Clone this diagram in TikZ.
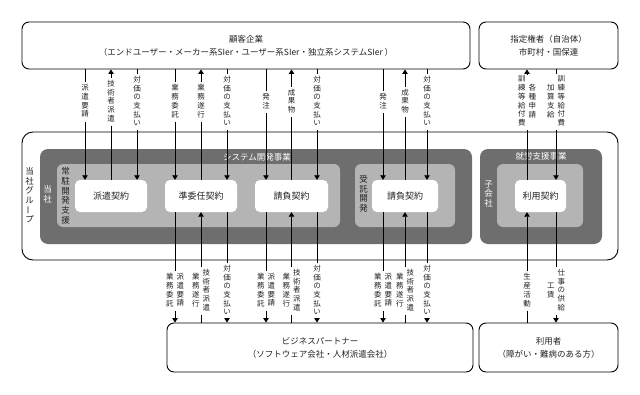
\documentclass[tikz,border=0pt]{standalone}
\usepackage{fontspec}
\setmainfont{Noto Sans CJK JP}
\usepackage{graphicx}
\usetikzlibrary{arrows.meta}
\definecolor{dk}{HTML}{6E6E6E}
\definecolor{lt}{HTML}{B4B4B4}
\definecolor{tx}{HTML}{222222}
\newcommand\fs[2]{\fontsize{#1}{#2}\selectfont}
\newcommand\vcol[1]{\begin{tabular}[c]{@{}c@{}}#1\end{tabular}}
\newcommand\vbar{\rotatebox[origin=c]{90}{ー}}
\newcommand\dnl[3]{\draw[ln] (#1 -| #2) -- (#2.north); \draw[ln,arr] (#2.south) -- (#3 -| #2);}
\newcommand\upl[3]{\draw[ln,arr] (#2.north) -- (#1 -| #2); \draw[ln] (#2.south) -- (#3 -| #2);}
\begin{document}
\begin{tikzpicture}[x=1pt,y=-1pt,
  ln/.style={line width=0.8pt, draw=black},
  arr/.style={-{Triangle[width=5.5pt,length=4.5pt]}},
  bx/.style={draw=black, line width=0.9pt, rounded corners=7pt, align=center, inner sep=0pt, text=tx, font=\fs{8.5}{13}},
  dkbx/.style={fill=dk, draw=none, rounded corners=8pt, inner sep=0pt},
  ltbx/.style={fill=lt, draw=none, rounded corners=6pt, inner sep=0pt},
  ct/.style={fill=white, draw=none, rounded corners=5pt, inner sep=0pt, text=tx, font=\fs{9}{11}, minimum height=32pt},
  wt/.style={text=white, inner sep=0pt, font=\fs{8.5}{9}},
  vt/.style={text=tx, inner sep=0pt, font=\fs{8.5}{9.2}},
  vw/.style={text=white, inner sep=0pt, font=\fs{8.5}{9}},
  lab/.style={text=tx, inner xsep=0.5pt, inner ysep=2pt, font=\fs{7.5}{8.2}}]
\useasboundingbox (0,0) rectangle (640,394);

% top boxes
\node[bx, minimum width=448pt, minimum height=47pt] (cust) at (246,45.5)
  {顧客企業\\（エンドユーザー・メーカー系SIer・ユーザー系SIer・独立系システムSIer ）};
\node[bx, minimum width=139pt, minimum height=47pt] (shitei) at (548.5,45.5)
  {指定権者（自治体）\\市町村・国保連};

% group box
\node[bx, rounded corners=11pt, minimum width=596pt, minimum height=128pt] (grp) at (320,196) {};
\node[vt] (grpl) at (29.5,196) {\vcol{当\\社\\グ\\ル\\\vbar\\プ}};

% dark boxes
\node[dkbx, minimum width=432pt, minimum height=95pt] (sys) at (256,196.5) {};
\node[dkbx, minimum width=122pt, minimum height=95pt] (shu) at (541,196.5) {};
\node[wt] (systl) at (257,157) {システム開発事業};
\node[wt] (shutl) at (541,156.5) {就労支援事業};
\node[vw] (toshal) at (47.5,195) {\vcol{当\\社}};
\node[vw] (kogl) at (488.5,195) {\vcol{子\\会\\社}};

% light boxes
\node[ltbx, minimum width=283pt, minimum height=63pt] (jochu) at (198.5,195.5) {};
\node[ltbx, minimum width=100pt, minimum height=63pt] (jutaku) at (405,195.5) {};
\node[ltbx, minimum width=86pt, minimum height=63pt] (shulb) at (540,195.5) {};
\node[vt] (jochul) at (65.5,197) {\vcol{常\\駐\\開\\発\\支\\援}};
\node[vt] (jutakul) at (363.5,195) {\vcol{受\\託\\開\\発}};

% contract boxes
\node[ct, minimum width=72pt] (haken) at (111,196) {派遣契約};
\node[ct, minimum width=72pt] (jun) at (201,196) {準委任契約};
\node[ct, minimum width=73pt] (uke1) at (291.5,196) {請負契約};
\node[ct, minimum width=66pt] (uke2) at (405,196) {請負契約};
\node[ct, minimum width=51pt] (riyo) at (540.5,196) {利用契約};

% bottom boxes
\node[bx, minimum width=306pt, minimum height=49pt] (bp) at (320,347.5)
  {ビジネスパートナー\\（ソフトウェア会社・人材派遣会社）};
\node[bx, minimum width=139pt, minimum height=49pt] (user) at (548.5,347.5)
  {利用者\\（障がい・難病のある方）};

% top labels
\node[lab] (a1) at (85,102) {\vcol{派\\遣\\要\\請}};
\node[lab] (a2) at (111,102) {\vcol{技\\術\\者\\派\\遣}};
\node[lab] (a3) at (137,102) {\vcol{対\\価\\の\\支\\払\\い}};
\node[lab] (a4) at (175,102) {\vcol{業\\務\\委\\託}};
\node[lab] (a5) at (201,102) {\vcol{業\\務\\遂\\行}};
\node[lab] (a6) at (227,102) {\vcol{対\\価\\の\\支\\払\\い}};
\node[lab] (a7) at (266,102) {\vcol{発\\注}};
\node[lab] (a8) at (291.5,102) {\vcol{成\\果\\物}};
\node[lab] (a9) at (317,102) {\vcol{対\\価\\の\\支\\払\\い}};
\node[lab] (a10) at (383,102) {\vcol{発\\注}};
\node[lab] (a11) at (405,102) {\vcol{成\\果\\物}};
\node[lab] (a12) at (427,102) {\vcol{対\\価\\の\\支\\払\\い}};
\node[lab] (a13) at (527,102) {\vcol{訓\\練\\等\\給\\付\\費}\hspace{3pt}\vcol{各\\種\\申\\請}};
\node[lab] (a14) at (556,102) {\vcol{加\\算\\支\\給}\hspace{3pt}\vcol{訓\\練\\等\\給\\付\\費}};

% bottom labels
\node[lab] (b1) at (175,291) {\vcol{業\\務\\委\\託}\hspace{3pt}\vcol{派\\遣\\要\\請}};
\node[lab] (b2) at (201,291) {\vcol{業\\務\\遂\\行}\hspace{3pt}\vcol{技\\術\\者\\派\\遣}};
\node[lab] (b3) at (227,291) {\vcol{対\\価\\の\\支\\払\\い}};
\node[lab] (b4) at (266,291) {\vcol{業\\務\\委\\託}\hspace{3pt}\vcol{派\\遣\\要\\請}};
\node[lab] (b5) at (291.5,291) {\vcol{業\\務\\遂\\行}\hspace{3pt}\vcol{技\\術\\者\\派\\遣}};
\node[lab] (b6) at (317,291) {\vcol{対\\価\\の\\支\\払\\い}};
\node[lab] (b7) at (383,291) {\vcol{業\\務\\委\\託}\hspace{3pt}\vcol{派\\遣\\要\\請}};
\node[lab] (b8) at (405,291) {\vcol{業\\務\\遂\\行}\hspace{3pt}\vcol{技\\術\\者\\派\\遣}};
\node[lab] (b9) at (427,291) {\vcol{対\\価\\の\\支\\払\\い}};
\node[lab] (b10) at (527,291) {\vcol{生\\産\\活\\動}};
\node[lab] (b11) at (556,291) {\vcol{工\\賃}\hspace{3pt}\vcol{仕\\事\\の\\供\\給}};

% top connectors
\dnl{cust.south}{a1}{haken.north}
\upl{cust.south}{a2}{haken.north}
\dnl{cust.south}{a3}{haken.north}
\dnl{cust.south}{a4}{jun.north}
\upl{cust.south}{a5}{jun.north}
\dnl{cust.south}{a6}{jun.north}
\dnl{cust.south}{a7}{uke1.north}
\upl{cust.south}{a8}{uke1.north}
\dnl{cust.south}{a9}{uke1.north}
\dnl{cust.south}{a10}{uke2.north}
\upl{cust.south}{a11}{uke2.north}
\dnl{cust.south}{a12}{uke2.north}
\upl{shitei.south}{a13}{riyo.north}
\dnl{shitei.south}{a14}{riyo.north}

% bottom connectors
\dnl{jun.south}{b1}{bp.north}
\upl{jun.south}{b2}{bp.north}
\dnl{jun.south}{b3}{bp.north}
\dnl{uke1.south}{b4}{bp.north}
\upl{uke1.south}{b5}{bp.north}
\dnl{uke1.south}{b6}{bp.north}
\dnl{uke2.south}{b7}{bp.north}
\upl{uke2.south}{b8}{bp.north}
\dnl{uke2.south}{b9}{bp.north}
\upl{riyo.south}{b10}{user.north}
\dnl{riyo.south}{b11}{user.north}
\end{tikzpicture}
\end{document}
